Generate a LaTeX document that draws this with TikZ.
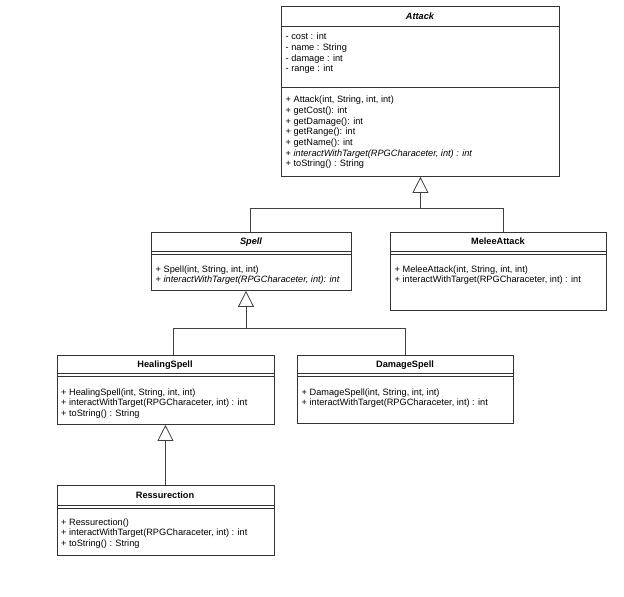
\documentclass[tikz,border=0pt]{standalone}
\usepackage{fontspec}
\setmainfont{Liberation Sans}
\usetikzlibrary{arrows.meta,calc}
\newcommand\firstln{\rule{0pt}{8pt}}
\begin{document}
\begin{tikzpicture}[x=1pt,y=-1pt,
  box/.style={draw=black!80, line width=0.9pt, fill=white, anchor=north west, inner sep=0pt, rectangle},
  ttl/.style={font=\fontsize{9.2}{11}\selectfont\bfseries, inner sep=0pt, anchor=base},
  txt/.style={font=\fontsize{9.2}{10.7}\selectfont, align=left, anchor=north west, inner sep=0pt},
  sepl/.style={draw=black!80, line width=0.9pt},
  conn/.style={draw=black!75, line width=0.8pt},
  inh/.style={conn, -{Triangle[open, length=16pt, width=16pt]}},
]
\useasboundingbox[fill=white] (0,0) rectangle (624,597);

% Attack
\node[box, minimum width=278pt, minimum height=170pt] (attack) at (281,6) {};
\node[ttl] (attackT) at (420,19.3) {\itshape Attack};
\draw[sepl] ([yshift=-20pt]attack.north west) -- ([yshift=-20pt]attack.north east);
\draw[sepl] ([yshift=-81pt]attack.north west) -- ([yshift=-81pt]attack.north east);
\node[txt] (attackA) at (285.5,31.5) {\firstln- cost : int\\- name : String\\- damage : int\\- range : int};
\node[txt] (attackM) at (285.5,94.5) {\firstln+ Attack(int, String, int, int)\\+ getCost(): int\\+ getDamage(): int\\+ getRange(): int\\+ getName(): int\\+ \textit{interactWithTarget(RPGCharaceter, int) : int}\\+ toString() : String};

% Spell
\node[box, minimum width=200pt, minimum height=58pt] (spell) at (151,232) {};
\node[ttl] (spellT) at (251,244.8) {\itshape Spell};
\draw[sepl] ([yshift=-19pt]spell.north west) -- ([yshift=-19pt]spell.north east);
\draw[sepl] ([yshift=-22pt]spell.north west) -- ([yshift=-22pt]spell.north east);
\node[txt] (spellM) at (155.5,264) {\firstln+ Spell(int, String, int, int)\\+ \textit{interactWithTarget(RPGCharaceter, int): int}};

% MeleeAttack
\node[box, minimum width=216pt, minimum height=78pt] (melee) at (390,232) {};
\node[ttl] (meleeT) at (498,244.8) {MeleeAttack};
\draw[sepl] ([yshift=-19pt]melee.north west) -- ([yshift=-19pt]melee.north east);
\draw[sepl] ([yshift=-22pt]melee.north west) -- ([yshift=-22pt]melee.north east);
\node[txt] (meleeM) at (394.5,264) {\firstln+ MeleeAttack(int, String, int, int)\\+ interactWithTarget(RPGCharaceter, int) : int};

% HealingSpell
\node[box, minimum width=217pt, minimum height=69pt] (heal) at (56.5,355) {};
\node[ttl] (healT) at (165,367.8) {HealingSpell};
\draw[sepl] ([yshift=-18pt]heal.north west) -- ([yshift=-18pt]heal.north east);
\draw[sepl] ([yshift=-21pt]heal.north west) -- ([yshift=-21pt]heal.north east);
\node[txt] (healM) at (61,387) {\firstln+ HealingSpell(int, String, int, int)\\+ interactWithTarget(RPGCharaceter, int) : int\\+ toString() : String};

% DamageSpell
\node[box, minimum width=216pt, minimum height=68pt] (dmg) at (297,355) {};
\node[ttl] (dmgT) at (405,367.8) {DamageSpell};
\draw[sepl] ([yshift=-18pt]dmg.north west) -- ([yshift=-18pt]dmg.north east);
\draw[sepl] ([yshift=-21pt]dmg.north west) -- ([yshift=-21pt]dmg.north east);
\node[txt] (dmgM) at (301.5,387) {\firstln+ DamageSpell(int, String, int, int)\\+ interactWithTarget(RPGCharaceter, int) : int};

% Ressurection
\node[box, minimum width=217pt, minimum height=70pt] (res) at (56.5,485) {};
\node[ttl] (resT) at (165,498.3) {Ressurection};
\draw[sepl] ([yshift=-20pt]res.north west) -- ([yshift=-20pt]res.north east);
\draw[sepl] ([yshift=-23pt]res.north west) -- ([yshift=-23pt]res.north east);
\node[txt] (resM) at (61,517) {\firstln+ Ressurection()\\+ interactWithTarget(RPGCharaceter, int) : int\\+ toString() : String};

% connectors
\coordinate (jA) at ([yshift=-31pt]attack.south);
\draw[conn] ([xshift=-1pt]spell.north) |- (jA);
\draw[conn] ([xshift=5pt]melee.north) |- (jA);
\draw[inh] (jA) -- (attack.south);

\coordinate (jS) at (246,328);
\draw[conn] ([xshift=8pt]heal.north) |- (jS);
\draw[conn] (dmg.north) |- (jS);
\draw[inh] (jS) -- (spell.south -| jS);

\draw[inh] (res.north -| heal.south) -- (heal.south);
\end{tikzpicture}
\end{document}
